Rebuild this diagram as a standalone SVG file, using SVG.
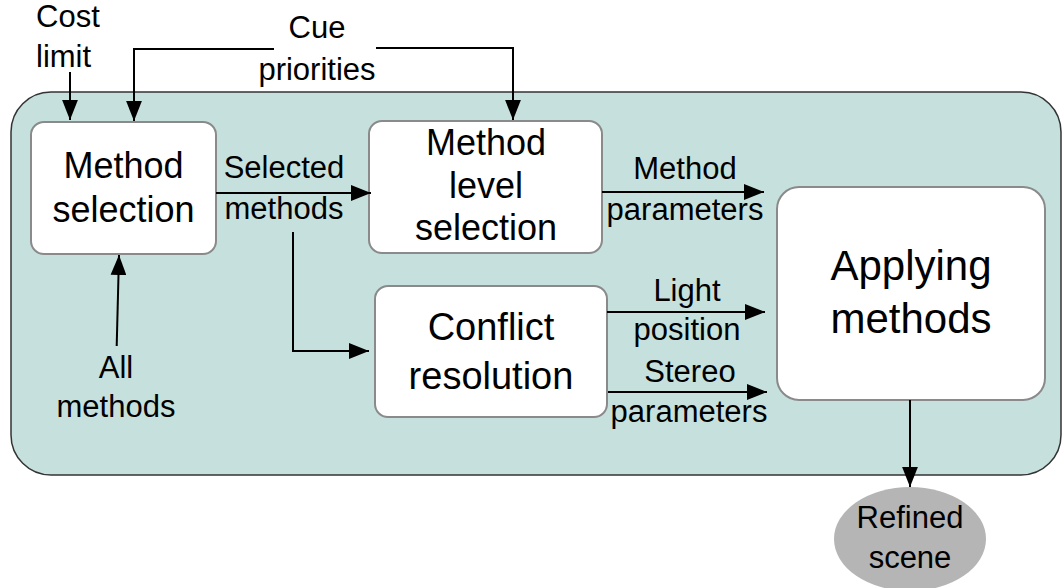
<svg xmlns="http://www.w3.org/2000/svg" width="1062" height="588" viewBox="0 0 1062 588">
  <style>
    .txt { font-family: "Liberation Sans", Arial, sans-serif; fill: #000; }
    .lbl { font-size: 31px; }
    .box { fill: #ffffff; stroke: #8a8a8a; stroke-width: 2; }
    .wire { fill: none; stroke: #000; stroke-width: 2; }
  </style>
  <defs>
    <marker id="arrow" markerUnits="userSpaceOnUse" markerWidth="20" markerHeight="16" viewBox="0 0 19 15" refX="19" refY="7.5" orient="auto">
      <path d="M0,0 L19,7.5 L0,15 z" fill="#000"/>
    </marker>
  </defs>

  <!-- processing stage container -->
  <g id="stage">
    <rect x="11" y="92" width="1050" height="383" rx="40" ry="40" fill="#c6e1dd" stroke="#333" stroke-width="1.5"/>
  </g>

  <g id="method-selection">
    <rect class="box" x="31" y="122" width="185" height="132" rx="13"/>
    <text class="txt" font-size="36" text-anchor="middle" x="123.5" y="178">Method</text>
    <text class="txt" font-size="36" text-anchor="middle" x="123.5" y="222">selection</text>
  </g>

  <g id="method-level-selection">
    <rect class="box" x="369" y="121" width="233" height="132" rx="13"/>
    <text class="txt" font-size="36" text-anchor="middle" x="486" y="155">Method</text>
    <text class="txt" font-size="36" text-anchor="middle" x="486" y="198">level</text>
    <text class="txt" font-size="36" text-anchor="middle" x="486" y="240">selection</text>
  </g>

  <g id="conflict-resolution">
    <rect class="box" x="375" y="286" width="232" height="131" rx="13"/>
    <text class="txt" font-size="38" text-anchor="middle" x="491" y="340">Conflict</text>
    <text class="txt" font-size="38" text-anchor="middle" x="491" y="389">resolution</text>
  </g>

  <g id="applying-methods">
    <rect class="box" x="777" y="187" width="268" height="213" rx="22"/>
    <text class="txt" font-size="42" text-anchor="middle" x="911" y="280">Applying</text>
    <text class="txt" font-size="42" text-anchor="middle" x="911" y="333">methods</text>
  </g>

  <g id="refined-scene">
    <ellipse cx="910" cy="539" rx="76" ry="52" fill="#b5b5b5"/>
    <text class="txt lbl" text-anchor="middle" x="910" y="528">Refined</text>
    <text class="txt lbl" text-anchor="middle" x="910" y="568">scene</text>
  </g>

  <!-- inputs -->
  <g id="cost-limit">
    <text class="txt lbl" x="36" y="27">Cost</text>
    <text class="txt lbl" x="36" y="67">limit</text>
  </g>
  <g id="cue-priorities">
    <text class="txt lbl" text-anchor="middle" x="317" y="38">Cue</text>
    <text class="txt lbl" text-anchor="middle" x="317" y="80">priorities</text>
  </g>
  <g id="all-methods">
    <text class="txt lbl" text-anchor="middle" x="116" y="378">All</text>
    <text class="txt lbl" text-anchor="middle" x="116" y="417">methods</text>
  </g>

  <!-- connectors and their labels -->
  <g id="connectors">
    <path class="wire" d="M70,72 V120" marker-end="url(#arrow)"/>
    <path class="wire" d="M274,49 H134 V121" marker-end="url(#arrow)"/>
    <path class="wire" d="M376,48 H513 V120" marker-end="url(#arrow)"/>
    <path class="wire" d="M116.7,346 L119,255" marker-end="url(#arrow)"/>
    <path class="wire" d="M216,193 H371" marker-end="url(#arrow)"/>
    <path class="wire" d="M293,232 V351 H369" marker-end="url(#arrow)"/>
    <path class="wire" d="M602,192 H764" marker-end="url(#arrow)"/>
    <path class="wire" d="M607,312 H765" marker-end="url(#arrow)"/>
    <path class="wire" d="M608,392 H767" marker-end="url(#arrow)"/>
    <path class="wire" d="M910,400 V487" marker-end="url(#arrow)"/>

    <text class="txt lbl" text-anchor="middle" x="284" y="178">Selected</text>
    <text class="txt lbl" text-anchor="middle" x="284" y="219">methods</text>
    <text class="txt lbl" text-anchor="middle" x="685" y="179">Method</text>
    <text class="txt lbl" text-anchor="middle" x="685" y="220">parameters</text>
    <text class="txt lbl" text-anchor="middle" x="687" y="301">Light</text>
    <text class="txt lbl" text-anchor="middle" x="687" y="340">position</text>
    <text class="txt lbl" text-anchor="middle" x="690" y="382">Stereo</text>
    <text class="txt lbl" text-anchor="middle" x="689" y="422">parameters</text>
  </g>
</svg>
